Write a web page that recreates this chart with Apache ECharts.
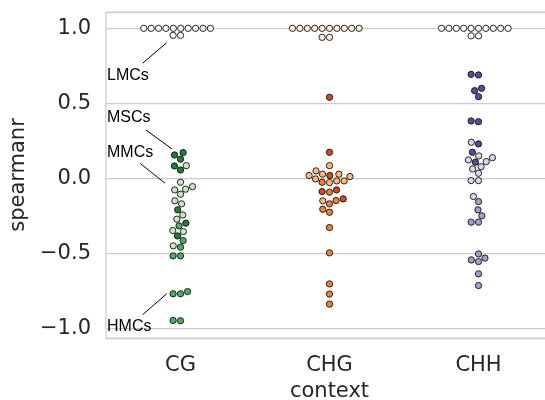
<!DOCTYPE html>
<html><head><meta charset="utf-8">
<script src="https://cdn.jsdelivr.net/npm/echarts@6/dist/echarts.min.js"></script>
<style>html,body{margin:0;padding:0;background:#fff}#c{width:545px;height:400px}</style>
</head><body><div id="c"></div>
<script>
// ---- data ----
const categories = ['CG', 'CHG', 'CHH'];
const groups = ['LMCs', 'MSCs', 'MMCs', 'HMCs'];
const yTicks = [-1.0, -0.5, 0.0, 0.5, 1.0];

const cgLMCs = [1, 1, 1, 1, 1, 1, 1, 1, 1, 1, 0.953, 0.953];
const cgMSCs = [0.171, 0.155, 0.127, 0.082, 0.055, -0.211, -0.300, -0.385];
const cgMMCs = [0.084, -0.027, -0.056, -0.073, -0.078, -0.107, -0.151, -0.171, -0.245, -0.273, -0.349, -0.356, -0.451];
const cgHMCs = [-0.318, -0.416, -0.460, -0.518, -0.518, -0.756, -0.771, -0.771, -0.949, -0.951];

const chgLMCs = [1, 1, 1, 1, 1, 1, 1, 1, 1, 1, 0.94, 0.94];
const chgMSCs = [0.54, 0.173, 0.018, -0.078, -0.089, -0.138];
const chgMMCs = [0.084, 0.049, 0.027, 0.027, 0.018, 0.011, -0.005, -0.018, -0.018, -0.029, -0.151];
const chgHMCs = [-0.027, -0.093, -0.149, -0.171, -0.207, -0.227, -0.329, -0.498, -0.705, -0.773, -0.84];

const chhLMCs = [1, 1, 1, 1, 1, 1, 1, 1, 1, 1, 0.95, 0.95];
const chhMSCs = [0.693, 0.689, 0.60, 0.584, 0.544, 0.382, 0.377, 0.229, 0.173, 0.107];
const chhMMCs = [0.24, 0.149, 0.137, 0.122, 0.111, 0.077, 0.062, 0.033, -0.016, -0.016, -0.122];
const chhHMCs = [-0.156, -0.211, -0.251, -0.293, -0.293, -0.505, -0.533, -0.545, -0.556, -0.638, -0.716];

const annLabels = ['LMCs', 'MSCs', 'MMCs', 'HMCs'];
// ---- end data ----

const valuesByCat = [
  [cgLMCs, cgMSCs, cgMMCs, cgHMCs],
  [chgLMCs, chgMSCs, chgMMCs, chgHMCs],
  [chhLMCs, chhMSCs, chhMMCs, chhHMCs]
];
const palettes = [
  ['#f7fcf5', '#1f7f3b', '#c6e7bf', '#4fae5b'],
  ['#feeddc', '#d8481b', '#fdb97d', '#f3822e'],
  ['#fbfafd', '#61489e', '#d9d8ea', '#a39fcb']
];
// annotation layout (data coords: x in category units, y in spearmanr)
const annText = [[-0.493, 0.682], [-0.493, 0.402], [-0.493, 0.169], [-0.493, -0.991]];
const annLine = [
  [[-0.254, 0.767], [-0.093, 0.904]],
  [[-0.232, 0.322], [-0.057, 0.195]],
  [[-0.272, 0.100], [-0.104, -0.033]],
  [[-0.254, -0.911], [-0.093, -0.771]]
];

const txtColor = '#262626';
const FS = 21;
const chart = echarts.init(document.getElementById('c'), null, { renderer: 'canvas' });

const base = {
  animation: false,
  backgroundColor: '#ffffff',
  grid: {
    left: 106, top: 12, width: 447, height: 326, show: true, borderColor: '#cccccc', borderWidth: 1.25,
    containLabel: false, outerBoundsMode: 'none'
  },
  xAxis: [
    {
      type: 'category', data: categories, gridIndex: 0, position: 'bottom',
      axisLine: { show: false }, axisTick: { show: false }, splitLine: { show: false },
      axisLabel: { fontSize: FS, color: txtColor, margin: 17, fontFamily: 'DejaVu Sans' },
      name: 'context', nameLocation: 'middle', nameGap: 39,
      nameTextStyle: { fontSize: FS, color: txtColor, fontFamily: 'DejaVu Sans' }
    },
    { type: 'value', min: -0.5, max: 2.5, gridIndex: 0, show: false, splitLine: { show: false } }
  ],
  yAxis: [{
    type: 'value', min: -1.066, max: 1.109, splitNumber: 5,
    axisLine: { show: false }, axisTick: { show: false },
    splitLine: { lineStyle: { color: '#cccccc', width: 1.25 } },
    axisLabel: {
      showMinLabel: false, showMaxLabel: false, fontSize: FS, color: txtColor, margin: 15,
      fontFamily: 'DejaVu Sans',
      formatter: function (v) {
        const t = yTicks.find(k => Math.abs(k - v) < 1e-6);
        if (t === undefined) return '';
        return t.toFixed(1).replace('-', '\u2212');
      }
    },
    name: 'spearmanr', nameLocation: 'middle', nameGap: 67, nameRotate: 90,
    nameTextStyle: { fontSize: FS, color: txtColor, fontFamily: 'DejaVu Sans' }
  }],
  series: []
};
chart.setOption(base);

function beeswarm(ys, cx, d) {
  const order = ys.map((_, i) => i).sort((a, b) => (ys[b] - ys[a]) || (a - b));
  const placed = [];
  const xs = new Array(ys.length);
  for (const idx of order) {
    const y = ys[idx];
    if (!placed.length) { xs[idx] = cx; placed.push({ x: cx, y }); continue; }
    const nb = [];
    for (let k = placed.length - 1; k >= 0; k--) if (Math.abs(placed[k].y - y) < d) nb.push(placed[k]);
    const cands = [cx];
    let leftFirst = true;
    for (const q of nb) {
      const dy = y - q.y;
      const dx = Math.sqrt(Math.max(d * d - dy * dy, 0)) * 1.05;
      if (leftFirst) cands.push(q.x - dx, q.x + dx); else cands.push(q.x + dx, q.x - dx);
      leftFirst = !leftFirst;
    }
    const sorted = cands.map((c, k) => ({ c, k })).sort((a, b) => (Math.abs(a.c - cx) - Math.abs(b.c - cx)) || (a.k - b.k));
    let chosen = sorted[sorted.length - 1].c;
    for (const s of sorted) {
      let ok = true;
      for (const q of nb) {
        const dx = q.x - s.c, dy = q.y - y;
        if (dx * dx + dy * dy < d * d - 1e-9) { ok = false; break; }
      }
      if (ok) { chosen = s.c; break; }
    }
    xs[idx] = chosen;
    placed.push({ x: chosen, y });
  }
  return xs;
}

const x0 = chart.convertToPixel({ xAxisIndex: 1 }, 0);
const x1 = chart.convertToPixel({ xAxisIndex: 1 }, 1);
const pxPerUnit = x1 - x0;
const D = 7.05;

const series = [];
valuesByCat.forEach((grpVals, ci) => {
  const flat = [];
  grpVals.forEach((arr, gi) => arr.forEach(v => flat.push({ v, gi })));
  const ys = flat.map(p => chart.convertToPixel({ yAxisIndex: 0 }, p.v));
  const cx = chart.convertToPixel({ xAxisIndex: 1 }, ci);
  const xs = beeswarm(ys, cx, D);
  groups.forEach((g, gi) => {
    const data = [];
    flat.forEach((p, k) => { if (p.gi === gi) data.push([ci + (xs[k] - cx) / pxPerUnit, p.v]); });
    series.push({
      type: 'scatter', name: categories[ci] + ' ' + g, xAxisIndex: 1, yAxisIndex: 0,
      symbol: 'circle', symbolSize: 6.3, data,
      itemStyle: { color: palettes[ci][gi], borderColor: '#111111', borderWidth: 0.9, opacity: 1 },
      emphasis: { disabled: true }
    });
  });
});

const graphic = [];
annLabels.forEach((t, i) => {
  const tx = chart.convertToPixel({ xAxisIndex: 1 }, annText[i][0]);
  const ty = chart.convertToPixel({ yAxisIndex: 0 }, annText[i][1]);
  graphic.push({
    type: 'text', x: tx, y: ty, z: 10,
    style: { text: t, fill: '#000000', font: '16px "Liberation Sans", Arial, sans-serif', verticalAlign: 'middle', align: 'left' }
  });
  const a = annLine[i][0], b = annLine[i][1];
  graphic.push({
    type: 'line', z: 10,
    shape: {
      x1: chart.convertToPixel({ xAxisIndex: 1 }, a[0]), y1: chart.convertToPixel({ yAxisIndex: 0 }, a[1]),
      x2: chart.convertToPixel({ xAxisIndex: 1 }, b[0]), y2: chart.convertToPixel({ yAxisIndex: 0 }, b[1])
    },
    style: { stroke: '#000000', lineWidth: 1 }
  });
});

chart.setOption({ series, graphic });
</script>
</body></html>
